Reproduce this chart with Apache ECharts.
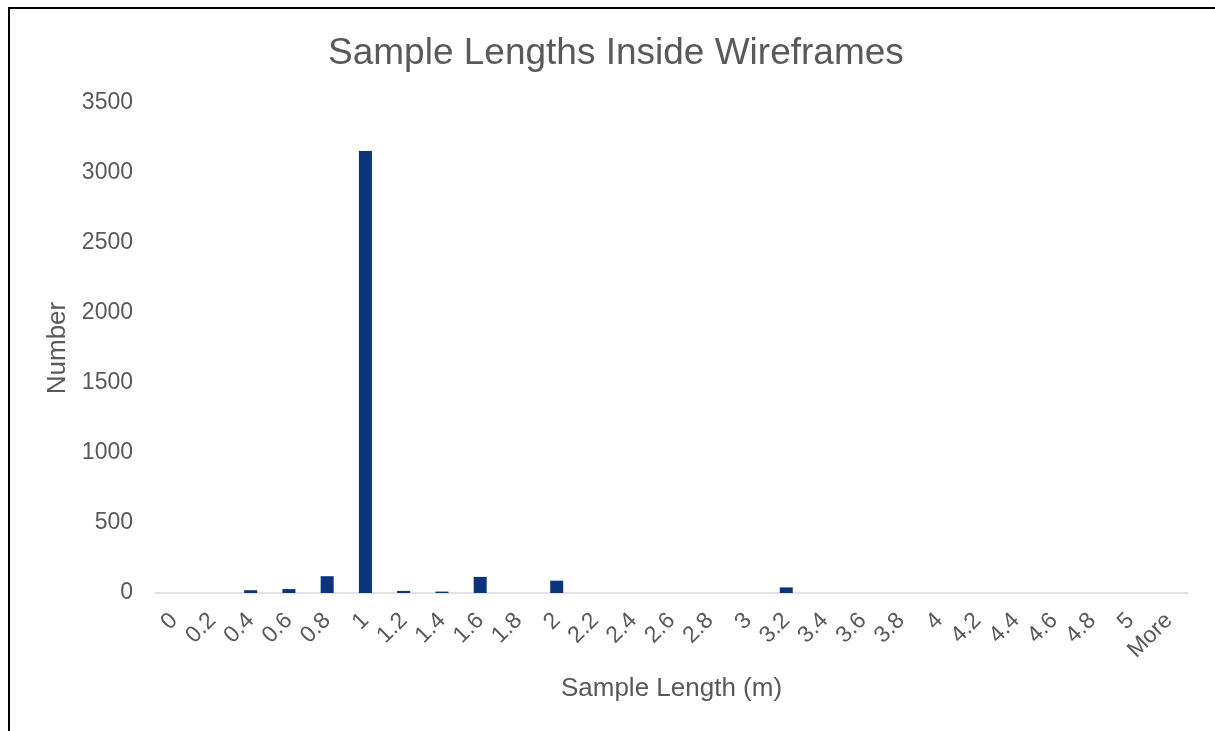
<!DOCTYPE html>
<html>
<head>
<meta charset="utf-8">
<script src="https://cdn.jsdelivr.net/npm/echarts@6/dist/echarts.min.js"></script>
<style>
  html, body { margin: 0; padding: 0; background: #fff; }
  #frame { position: absolute; left: 8px; top: 7px; width: 1207px; height: 724px;
           border-left: 2px solid #000; border-top: 2px solid #000; box-sizing: border-box; }
  #chart { position: absolute; left: 0; top: 0; width: 1215px; height: 731px; }
</style>
</head>
<body>
<div id="frame"></div>
<div id="chart"></div>
<script>
// Histogram bins (sample length, metres) and counts per bin
const binLabels = ['0', '0.2', '0.4', '0.6', '0.8', '1', '1.2', '1.4', '1.6', '1.8', '2', '2.2', '2.4',
  '2.6', '2.8', '3', '3.2', '3.4', '3.6', '3.8', '4', '4.2', '4.4', '4.6', '4.8', '5', 'More'];
const counts = [0, 0, 20, 28, 120, 3157, 15, 10, 115, 0, 88, 0, 0,
  0, 0, 0, 40, 0, 0, 0, 0, 0, 0, 0, 0, 0, 0];
const yTicks = { min: 0, max: 3500, interval: 500 };

const textColor = '#595959';
const fontFamily = 'Liberation Sans, Arial, sans-serif';
const chart = echarts.init(document.getElementById('chart'));
chart.setOption({
  backgroundColor: 'transparent',
  animation: false,
  title: {
    text: 'Sample Lengths Inside Wireframes',
    left: 323,
    top: 30,
    textStyle: { fontFamily, fontSize: 37, fontWeight: 'normal', color: textColor }
  },
  grid: { left: 155, right: 27, top: 103, bottom: 138 },
  xAxis: {
    type: 'category',
    data: binLabels,
    name: 'Sample Length (m)',
    nameLocation: 'middle',
    nameGap: 83,
    nameTextStyle: { fontFamily, fontSize: 26, color: textColor },
    axisLine: { lineStyle: { color: '#d9d9d9', width: 1.5 } },
    axisTick: { show: false },
    axisLabel: {
      interval: 0, rotate: 45, margin: 24,
      fontFamily, fontSize: 23, color: textColor
    }
  },
  yAxis: {
    type: 'value',
    min: yTicks.min, max: yTicks.max, interval: yTicks.interval,
    name: 'Number',
    nameLocation: 'middle',
    nameGap: 80,
    nameRotate: 90,
    nameTextStyle: { fontFamily, fontSize: 26, color: textColor },
    splitLine: { show: false },
    axisLine: { show: false },
    axisTick: { show: false },
    axisLabel: {
      margin: 22, fontFamily, fontSize: 23, color: textColor,
      formatter: v => String(v)
    }
  },
  series: [{
    type: 'bar',
    data: counts,
    barWidth: '34%',
    itemStyle: { color: '#0b347b' }
  }]
});
</script>
</body>
</html>
